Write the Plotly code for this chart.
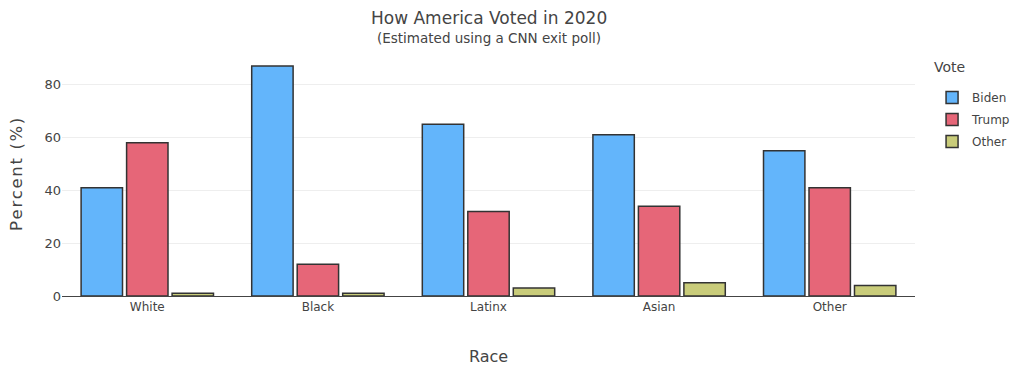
import plotly.graph_objects as go

races = ["White", "Black", "Latinx", "Asian", "Other"]
biden = [41, 87, 65, 61, 55]
trump = [58, 12, 32, 34, 41]
other = [1, 1, 3, 5, 4]

series = [("Biden", biden, "#63b5fb"), ("Trump", trump, "#e66678"), ("Other", other, "#c9cc7a")]

fig = go.Figure()
for name, vals, col in series:
    fig.add_trace(go.Bar(x=races, y=vals, name=name, legendgroup=name,
                         marker=dict(color=col, line=dict(color="#333333", width=1.5))))

fig.add_annotation(text="How America Voted in 2020", xref="paper", yref="paper", x=0.5, y=1.15,
                   yanchor="middle", showarrow=False, font=dict(size=17, color="#444444"))
fig.add_annotation(text="(Estimated using a CNN exit poll)", xref="paper", yref="paper", x=0.5, y=1.066,
                   yanchor="middle", showarrow=False, font=dict(size=13.5, color="#444444"))
fig.add_annotation(text="Vote", xref="paper", yref="paper", x=1.020, y=0.946, xanchor="left",
                   yanchor="middle", showarrow=False, font=dict(size=14, color="#444444"))
fig.add_annotation(text="\u200a".join("Percent (%)"), xref="paper", yref="paper", x=0, y=0.5,
                   xshift=-46, xanchor="center", yanchor="middle", textangle=-90, showarrow=False,
                   font=dict(size=16.5, color="#444444"))

fig.update_layout(
    width=1016, height=380,
    font=dict(family="DejaVu Sans", color="#444444", size=12),
    margin=dict(l=54, r=109, t=46, b=92, autoexpand=False),
    barmode="group", bargap=0.2, bargroupgap=0.09,
    plot_bgcolor="white", paper_bgcolor="white",
    legend=dict(x=1.020, y=0.880, yanchor="top", font=dict(size=12), tracegroupgap=3),
    xaxis=dict(title=dict(text="Race", font=dict(size=16), standoff=37), showline=True, automargin=False,
               linecolor="#444444", linewidth=1, tickfont=dict(size=12)),
    yaxis=dict(gridcolor="#eeeeee", zeroline=True, automargin=False,
               zerolinecolor="#444444", zerolinewidth=1, tickvals=[0, 20, 40, 60, 80], tickfont=dict(size=13)),
)
fig.write_html("out.html")
